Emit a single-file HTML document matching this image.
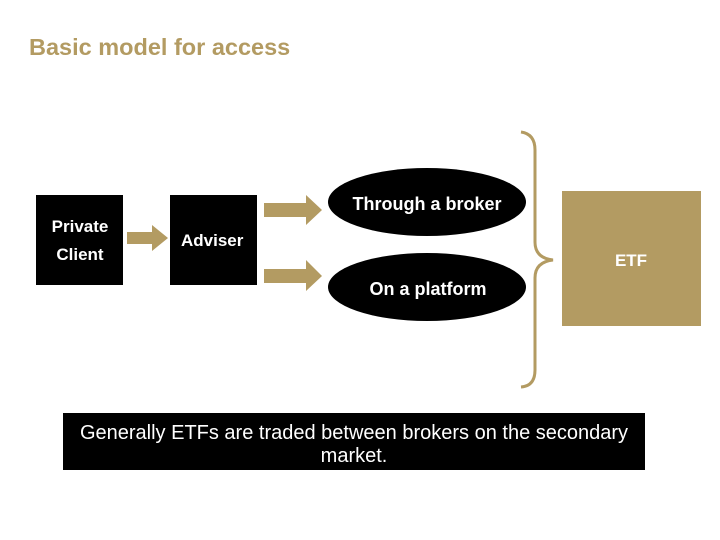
<!DOCTYPE html>
<html><head><style>
body{margin:0;width:720px;height:540px;background:#fff;position:relative;overflow:hidden;font-family:"Liberation Sans",Arial,sans-serif}
.a{position:absolute}
</style></head><body>
<div class="a" style="left:29px;top:34px;font-size:23.5px;font-weight:bold;color:#b39b62">Basic model for access</div>
<svg class="a" style="left:0;top:0" width="720" height="540">
<rect x="36" y="195" width="87" height="90" fill="#000"/>
<rect x="170" y="195" width="87" height="90" fill="#000"/>
<polygon points="127,232 152,232 152,225 168,238 152,251 152,244 127,244" fill="#b39b62"/>
<polygon points="264,203 306,203 306,195 322,210 306,225 306,217 264,217" fill="#b39b62"/>
<polygon points="264,269 306,269 306,260 322,276 306,291 306,283 264,283" fill="#b39b62"/>
<ellipse cx="427" cy="202" rx="99" ry="34" fill="#000"/>
<ellipse cx="427" cy="287" rx="99" ry="34" fill="#000"/>
<path d="M521,132 Q535,134 535,150 L535,242 Q535,258 553,260 Q535,262 535,278 L535,370 Q535,386 521,387" fill="none" stroke="#b39b62" stroke-width="3"/>
<rect x="562" y="191" width="139" height="135" fill="#b39b62"/>
<rect x="63" y="413" width="582" height="57" fill="#000"/>
<g font-family="Liberation Sans, Arial, sans-serif" font-weight="bold" font-size="17" fill="#fff" text-anchor="middle">
<text x="80" y="232">Private</text>
<text x="80" y="260">Client</text>
<text x="181" y="246" text-anchor="start">Adviser</text>
<text x="427" y="210" font-size="18">Through a broker</text>
<text x="428" y="295" font-size="18">On a platform</text>
<text x="631" y="266">ETF</text>
</g>
<g font-family="Liberation Sans, Arial, sans-serif" font-size="20" fill="#fff" text-anchor="middle">
<text x="354" y="439">Generally ETFs are traded between brokers on the secondary</text>
<text x="354" y="462">market.</text>
</g>
</svg>
</body></html>
